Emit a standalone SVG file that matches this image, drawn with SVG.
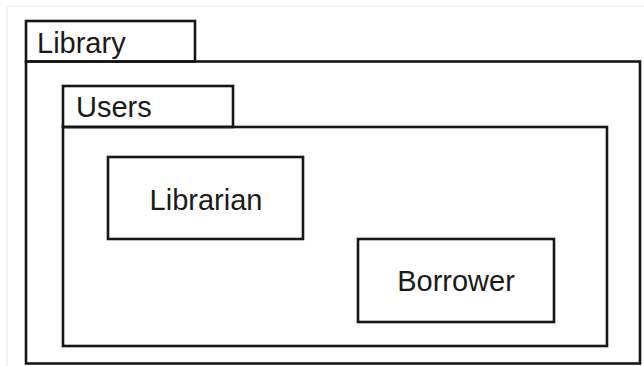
<svg xmlns="http://www.w3.org/2000/svg" width="644" height="366" viewBox="0 0 644 366">
  <style>
    .box { fill: none; stroke: #161616; stroke-width: 2.6; }
    .label { font-family: "Liberation Sans", Arial, sans-serif; font-size: 29px; fill: #1a1a1a; }
    .frame { fill: none; stroke: #ececec; stroke-width: 1.2; }
  </style>
  <rect width="644" height="366" fill="#ffffff"/>
  <!-- faint page edge -->
  <path class="frame" d="M7 366 V6 H644"/>

  <g id="package-library">
    <rect class="box" x="26" y="21" width="169" height="40.5"/>
    <rect class="box" x="26" y="61.5" width="614" height="302"/>
    <text class="label" x="37" y="53">Library</text>
  </g>

  <g id="package-users">
    <rect class="box" x="63" y="86" width="170" height="41"/>
    <rect class="box" x="63" y="127" width="544" height="219"/>
    <text class="label" x="76" y="117">Users</text>
  </g>

  <g id="class-librarian">
    <rect class="box" x="108" y="157" width="195" height="82"/>
    <text class="label" x="206" y="210" text-anchor="middle">Librarian</text>
  </g>

  <g id="class-borrower">
    <rect class="box" x="358" y="239" width="196" height="83"/>
    <text class="label" x="456" y="291" text-anchor="middle">Borrower</text>
  </g>

  <g id="connectors"></g>
</svg>
